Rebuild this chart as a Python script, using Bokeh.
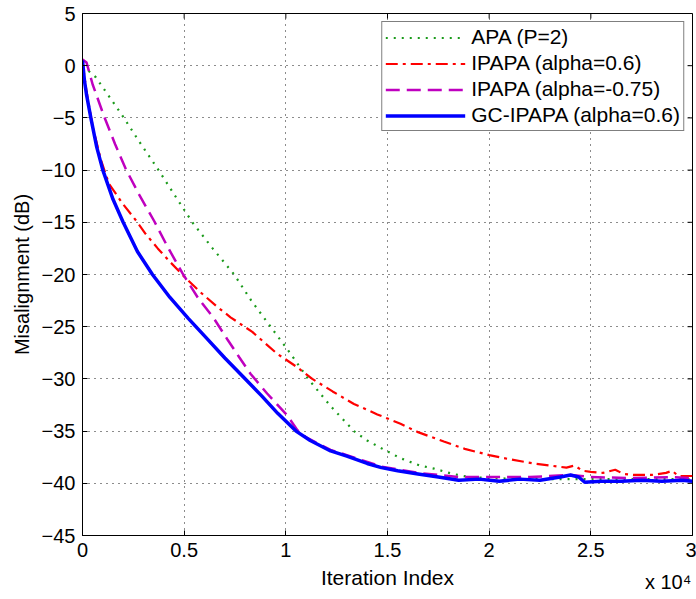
from bokeh.plotting import figure
from bokeh.models import (FixedTicker, CustomJSTickFormatter, Legend,
                          LegendItem, LinearAxis, Range1d)
from bokeh.embed import file_html
from bokeh.resources import INLINE

# ---------------- data (x in units of 10^4 iterations, y in dB) ----------------
apa_x = [0, 0.065, 0.197, 0.28, 0.374, 0.46, 0.54, 0.64, 0.746, 0.83, 0.925, 1.02,
         1.11, 1.22, 1.335, 1.40, 1.466, 1.564, 1.66, 1.73, 1.82, 1.9, 2.0, 2.2,
         2.5, 2.8, 3.0]
apa_y = [0.0, -1.1, -4.8, -7.3, -10.0, -12.6, -15.0, -17.5, -20.0, -22.5, -25.0, -27.5,
         -30.0, -32.6, -35.0, -35.9, -36.6, -37.6, -38.3, -38.6, -39.1, -39.4, -39.5,
         -39.6, -39.6, -39.6, -39.6]

ipapa06_x = [0, 0.02, 0.05, 0.09, 0.13, 0.197, 0.27, 0.31, 0.37, 0.426, 0.50, 0.58,
             0.663, 0.728, 0.835, 0.958, 1.05, 1.13, 1.23, 1.335, 1.45, 1.564, 1.65,
             1.777, 1.88, 2.0, 2.1, 2.22, 2.3, 2.38, 2.42, 2.46, 2.5, 2.56, 2.62, 2.66,
             2.71, 2.8, 2.87, 2.9, 2.93, 3.0]
ipapa06_y = [0.3, -2.5, -5.8, -9.0, -11.3, -13.2, -15.0, -16.1, -17.5, -18.7, -20.2,
             -21.7, -23.1, -24.1, -25.5, -27.6, -28.8, -30.0, -31.2, -32.4, -33.4, -34.3,
             -35.1, -36.0, -36.7, -37.3, -37.7, -38.1, -38.3, -38.5, -38.3, -38.8, -38.9,
             -39.0, -38.7, -39.1, -39.2, -39.2, -39.0, -38.8, -39.3, -39.3]

ipapa075_x = [0, 0.02, 0.05, 0.107, 0.16, 0.213, 0.28, 0.353, 0.42, 0.492, 0.57, 0.646,
              0.712, 0.77, 0.826, 0.908, 1.007, 1.056, 1.10, 1.15, 1.22, 1.3, 1.47, 1.65,
              1.85, 2.0, 2.2, 2.4, 2.5, 2.7, 2.9, 3.0]
ipapa075_y = [0.6, 0.3, -1.8, -4.9, -7.5, -9.9, -12.4, -14.9, -17.4, -19.9, -22.3, -24.2,
              -26.2, -27.9, -29.5, -31.4, -33.5, -34.9, -35.6, -36.1, -36.8, -37.3, -38.4,
              -39.0, -39.4, -39.4, -39.4, -39.2, -39.4, -39.5, -39.4, -39.5]

gc_x = [0, 0.01, 0.02, 0.041, 0.07, 0.10, 0.15, 0.20, 0.27, 0.344, 0.43, 0.52, 0.61,
        0.70, 0.79, 0.88, 0.96, 1.05, 1.12, 1.22, 1.30, 1.40, 1.47, 1.55, 1.65, 1.75,
        1.85, 1.95, 2.05, 2.15, 2.25, 2.35, 2.40, 2.44, 2.47, 2.55, 2.65, 2.75, 2.85,
        2.95, 3.0]
gc_y = [0.5, -1.5, -2.8, -5.0, -7.8, -10.0, -12.8, -15.0, -17.8, -20.0, -22.2, -24.2,
        -26.1, -28.0, -29.8, -31.6, -33.3, -35.0, -35.9, -36.9, -37.4, -38.1, -38.5,
        -38.8, -39.1, -39.4, -39.7, -39.6, -39.8, -39.6, -39.7, -39.4, -39.2, -39.4,
        -39.9, -39.8, -39.8, -39.7, -39.8, -39.7, -39.8]

x_ticks = [0, 0.5, 1, 1.5, 2, 2.5, 3]
y_ticks = [5, 0, -5, -10, -15, -20, -25, -30, -35, -40, -45]
labels = ["APA (P=2)", "IPAPA (alpha=0.6)", "IPAPA (alpha=-0.75)", "GC-IPAPA (alpha=0.6)"]
x_multiplier = "x 10\u2074"

FONT = "Liberation Sans"
FS = "20px"

X0, X1, Y0, Y1 = 0, 3, -45, 5
p = figure(width=696, height=599, output_backend="svg", toolbar_location=None,
           x_range=Range1d(X0, X1), y_range=Range1d(Y0, Y1),
           min_border_left=82, min_border_right=4, min_border_top=13, min_border_bottom=64)
p.background_fill_color = "white"
p.border_fill_color = "white"
p.outline_line_color = "black"
p.outline_line_width = 1

# grid
for g in (p.xgrid, p.ygrid):
    g.grid_line_color = "black"
    g.grid_line_dash = "1 5"
    g.grid_line_width = 1
    g.grid_line_alpha = 0.9
p.xgrid.ticker = FixedTicker(ticks=x_ticks)
p.ygrid.ticker = FixedTicker(ticks=y_ticks)

# main axes
xa = p.xaxis[0]
ya = p.yaxis[0]
xa.ticker = FixedTicker(ticks=x_ticks)
ya.ticker = FixedTicker(ticks=y_ticks)
xa.formatter = CustomJSTickFormatter(code="return String(Math.round(tick*10)/10);")
for ax in (xa, ya):
    ax.major_tick_in = 5
    ax.major_tick_out = 0
    ax.minor_tick_in = 0
    ax.minor_tick_out = 0
    ax.axis_line_color = "black"
    ax.major_tick_line_color = "black"
    ax.major_label_text_font = FONT
    ax.major_label_text_font_size = FS
    ax.major_label_text_color = "black"
    ax.axis_label_text_font = FONT
    ax.axis_label_text_font_style = "normal"
    ax.axis_label_text_color = "black"
    ax.major_label_standoff = 7
xa.axis_label = "Iteration Index"
ya.axis_label = "Misalignment (dB)"
xa.axis_label_text_font_size = "21px"
ya.axis_label_text_font_size = "20px"
xa.axis_label_standoff = 6
ya.axis_label_standoff = 6

# "x 10^4" multiplier: an extra, line-less axis below with one label near the right end
ma = LinearAxis(ticker=FixedTicker(ticks=[2.88]),
                formatter=CustomJSTickFormatter(code="return '%s';" % x_multiplier))
ma.axis_line_color = None
ma.major_tick_line_color = None
ma.minor_tick_line_color = None
ma.major_tick_in = 0
ma.major_tick_out = 0
ma.major_label_standoff = -21
ma.major_label_text_font = FONT
ma.major_label_text_font_size = FS
ma.major_label_text_color = "black"
p.add_layout(ma, "below")

# inward ticks on the top and right edges of the box (5 px long)
px_x = (X1 - X0) / 610.0
px_y = (Y1 - Y0) / 522.0
p.segment(x0=x_ticks, y0=[Y1] * len(x_ticks), x1=x_ticks,
          y1=[Y1 - 5 * px_y] * len(x_ticks), line_color="black", line_width=1)
p.segment(x0=[X1] * len(y_ticks), y0=y_ticks, x1=[X1 - 5 * px_x] * len(y_ticks),
          y1=y_ticks, line_color="black", line_width=1)

# curves
r1 = p.line(apa_x, apa_y, line_color="#1a9a1a", line_width=2.2, line_dash="2 6")
r2 = p.line(ipapa06_x, ipapa06_y, line_color="#ff0000", line_width=2.2, line_dash="12 5 3 5")
r3 = p.line(ipapa075_x, ipapa075_y, line_color="#bf00bf", line_width=2.5, line_dash="14 7")
r4 = p.line(gc_x, gc_y, line_color="#0000ff", line_width=3.5)

legend = Legend(items=[LegendItem(label=labels[0], renderers=[r1]),
                       LegendItem(label=labels[1], renderers=[r2]),
                       LegendItem(label=labels[2], renderers=[r3]),
                       LegendItem(label=labels[3], renderers=[r4])],
                location="top_right")
legend.margin = 8
legend.padding = 3
legend.spacing = 2
legend.label_height = 23
legend.glyph_height = 23
legend.glyph_width = 80
legend.label_standoff = 6
legend.label_text_font = FONT
legend.label_text_font_size = "21px"
legend.label_text_color = "black"
legend.border_line_color = "black"
legend.border_line_width = 1
legend.background_fill_color = "white"
legend.background_fill_alpha = 1
p.add_layout(legend, "center")

open("out.html", "w").write(file_html(p, INLINE))
